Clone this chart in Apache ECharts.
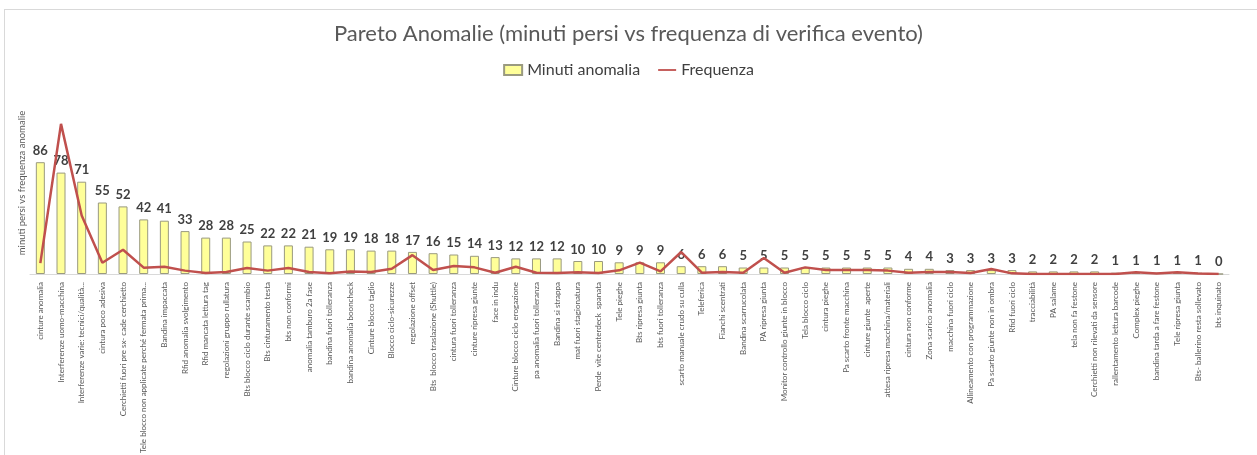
<!DOCTYPE html>
<html>
<head>
<meta charset="utf-8">
<script src="https://cdn.jsdelivr.net/npm/echarts@6/dist/echarts.min.js"></script>
<style>
  html, body { margin: 0; padding: 0; background: #fff; }
  #frame { position: absolute; left: 4px; top: 9px; width: 1300px; height: 500px; border-left: 1px solid #d9d9d9; border-top: 1px solid #d9d9d9; }
  #chart { position: absolute; left: 0; top: 0; width: 1257px; height: 455px; }
</style>
</head>
<body>
<div id="frame"></div>
<div id="chart"></div>
<script>
var categorie = [
  'cinture anomalia', 'Interferenze uomo-macchina', 'Interferenze varie: tecnici/qualità...', 'cintura poco adesiva',
  'Cerchietti fuori pre sx- cade cerchietto', 'Tele blocco non applicate perché fermata prima...', 'Bandina impaccata',
  'Rfid anomalia svolgimento', 'Rfid mancata lettura tag', 'regolazioni gruppo rullatura', 'Bts blocco ciclo durante scambio',
  'Bts cinturamento testa', 'bts non conformi', 'anomalia tamburo 2a fase', 'bandina fuori tolleranza',
  'bandina anomalia booncheck', 'Cinture blocco taglio', 'Blocco ciclo-sicurezze', 'regolazione offset',
  'Bts  blocco traslazione (Shuttle)', 'cintura fuori tolleranza', 'cinture ripresa giunte', 'face in indu',
  'Cinture blocco ciclo erogazione', 'pa anomalia fuori tolleranza', 'Bandina si strappa', 'mat fuori stagionatura',
  'Perde  vite centerdeck  spanata', 'Tele pieghe', 'Bts ripresa giunta', 'bts fuori tolleranza',
  'scarto manuale crudo su culla', 'Teleferica', 'Fianchi scentrati', 'Bandina scarrucolata', 'PA ripresa giunta',
  'Monitor controllo giunte in blocco', 'Tela blocco ciclo', 'cintura pieghe', 'Pa scarto fronte macchina',
  'cinture giunte  aperte', 'attesa ripresa macchina/materiali', 'cintura non conforme', 'Zona scarico anomalia',
  'macchina fuori ciclo', 'Allineamento con programmazione', 'Pa scarto giunte non in ombra', 'Rfid fuori ciclo',
  'tracciabilità', 'PA salame', 'tela non fa festone', 'Cerchietti non rilevati da sensore',
  'rallentamento lettura barcode', 'Complex pieghe', 'bandina tarda a fare festone', 'Tele ripresa giunta',
  'Bts- ballerino resta sollevato', 'bts inquinato'
];

var minutiAnomalia = [
  86, 78, 71, 55, 52, 42, 41, 33, 28, 28, 25, 22, 22, 21, 19, 19, 18, 18, 17, 16,
  15, 14, 13, 12, 12, 12, 10, 10, 9, 9, 9, 6, 6, 6, 5, 5, 5, 5, 5, 5,
  5, 5, 4, 4, 3, 3, 3, 3, 2, 2, 2, 2, 1, 1, 1, 1, 1, 0
];

var frequenza = [
  8.4, 115.5, 45, 8.7, 18.7, 4.9, 5.6, 2.6, 0.8, 1.5, 4.6, 2.6, 4.6, 1.5, 0.5, 2, 1.5, 4, 14.5, 3,
  6.1, 5.1, 1, 5.6, 1, 0.8, 1.3, 0.8, 2.8, 8.7, 2, 16.9, 1, 1.5, 1, 12.3, 1, 5.1, 3, 3,
  3, 2.6, 1, 1.5, 1.5, 0.8, 3.8, 0.5, 0, 0, 0, 0, 0, 1.3, 0.3, 1.3, 0.3, 0
];

var font = 'Lato, "Open Sans", sans-serif';

var option = {
  animation: false,
  backgroundColor: 'transparent',
  title: {
    text: 'Pareto Anomalie (minuti persi vs frequenza di verifica evento)',
    left: 'center',
    top: 18,
    textStyle: { fontFamily: font, fontSize: 22, fontWeight: 'normal', color: '#595959' }
  },
  legend: {
    top: 57,
    left: 'center',
    itemGap: 18,
    itemWidth: 18,
    itemHeight: 10,
    textStyle: { fontFamily: font, fontSize: 16, color: '#404040' },
    data: [
      { name: 'Minuti anomalia', icon: 'rect' },
      { name: 'Frequenza', icon: 'path://M0,4 L20,4 L20,6 L0,6 Z' }
    ]
  },
  grid: { left: 30, right: 28, top: 118, bottom: 181, outerBoundsMode: 'none' },
  xAxis: {
    type: 'category',
    data: categorie,
    axisLine: { lineStyle: { color: '#d9d9d9' } },
    axisTick: { show: false },
    axisLabel: {
      interval: 0,
      rotate: 90,
      fontFamily: font,
      fontSize: 8,
      color: '#595959',
      margin: 8
    }
  },
  yAxis: {
    type: 'value',
    min: 0,
    max: 120,
    name: 'minuti persi vs frequenza anomalie',
    nameLocation: 'middle',
    nameGap: 3,
    nameTextStyle: { fontFamily: font, fontSize: 9.5, color: '#595959', padding: [0, 0, 0, 26] },
    axisLine: { show: false },
    axisTick: { show: false },
    axisLabel: { show: false },
    splitLine: { show: false }
  },
  series: [
    {
      name: 'Minuti anomalia',
      type: 'bar',
      data: minutiAnomalia,
      barWidth: 9,
      itemStyle: { color: '#FFFF99', borderColor: '#9a9a80', borderWidth: 1 },
      label: {
        show: true,
        position: 'top',
        distance: 5,
        fontFamily: font,
        fontSize: 13,
        fontWeight: 'bold',
        color: '#404040'
      }
    },
    {
      name: 'Frequenza',
      type: 'line',
      data: frequenza,
      symbol: 'none',
      lineStyle: { color: '#C0504D', width: 2.5 },
      itemStyle: { color: '#C0504D' },
      z: 3
    }
  ]
};

var chart = echarts.init(document.getElementById('chart'));
chart.setOption(option);
</script>
</body>
</html>
